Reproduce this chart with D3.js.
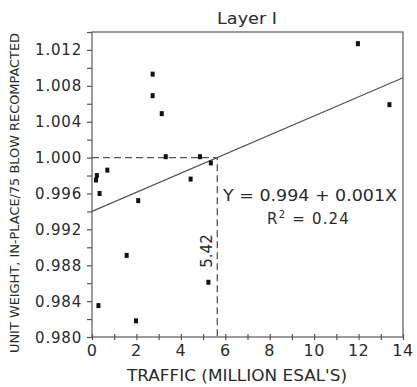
<!DOCTYPE html>
<html><head><meta charset="utf-8">
<script src="https://cdn.jsdelivr.net/npm/d3@7"></script>
<style>body{margin:0;background:#fff}svg text{font-family:"DejaVu Sans",sans-serif;fill:#2a2a2a}</style>
</head><body><svg id="c" width="417" height="387"></svg>
<script>
const traffic = [0.18,0.22,0.69,0.34,2.08,3.32,4.86,5.35,4.44,2.73,2.73,3.14,11.97,13.39,1.56,0.29,1.98,5.24];
const unitWeight = [0.9975,0.9980,0.9986,0.9960,0.9952,1.0001,1.0001,0.9994,0.9976,1.0093,1.0069,1.0049,1.0127,1.0059,0.9891,0.9835,0.9818,0.9861];
const fitX = [0,14];
const fitY = [0.9940,1.0089];
const crossX = 5.64;
const xTicks = [0,2,4,6,8,10,12,14];
const yTicks = [0.980,0.984,0.988,0.992,0.996,1.000,1.004,1.008,1.012];

const svg = d3.select("#c");
const x = d3.scaleLinear().domain([0,14]).range([92,403]);
const y = d3.scaleLinear().domain([0.980,1.014]).range([337,32]);
const col = "#555";

// frame
svg.append("rect").attr("x",92).attr("y",32).attr("width",311).attr("height",305)
  .attr("fill","none").attr("stroke","#666").attr("stroke-width",1.3);

// y axis
const ya = svg.append("g").attr("transform","translate(92,0)")
  .call(d3.axisLeft(y).tickValues(d3.range(0.980,1.0141,0.002)).tickSize(5).tickFormat(""));
ya.select(".domain").remove();
ya.selectAll("line").attr("stroke",col).attr("stroke-width",1.2);
svg.append("g").selectAll("text").data(yTicks).join("text")
  .attr("x",82).attr("y",d=>y(d)+5.5).attr("text-anchor","end")
  .attr("font-size",15).attr("letter-spacing",0.8).text(d=>d3.format(".3f")(d));

// x axis
const xa = svg.append("g").attr("transform","translate(0,337)")
  .call(d3.axisBottom(x).tickValues(d3.range(0,15,1)).tickSize(3).tickFormat(""));
xa.select(".domain").remove();
xa.selectAll("line").attr("stroke",col).attr("stroke-width",1.2).attr("y1",-3);
svg.append("g").selectAll("text").data(xTicks).join("text")
  .attr("x",d=>x(d)).attr("y",356).attr("text-anchor","middle")
  .attr("font-size",16).attr("letter-spacing",0.5).text(d=>d);

// regression line
svg.append("line").attr("x1",x(fitX[0])).attr("y1",y(fitY[0])).attr("x2",x(fitX[1])).attr("y2",y(fitY[1]))
  .attr("stroke","#555").attr("stroke-width",1.3);

// dashed guides
svg.append("path").attr("d",`M${x(0)},${y(1.000)}H${x(crossX)}V${y(0.980)}`)
  .attr("fill","none").attr("stroke","#555").attr("stroke-width",1.3).attr("stroke-dasharray","7,4");

// points
svg.append("g").selectAll("rect").data(traffic.map((t,i)=>[t,unitWeight[i]])).join("rect")
  .attr("x",d=>x(d[0])-2).attr("y",d=>y(d[1])-2.5).attr("width",4).attr("height",5).attr("fill","#111");

// texts
svg.append("text").attr("x",247).attr("y",24).attr("text-anchor","middle").attr("font-size",15)
  .attr("textLength",60).attr("lengthAdjust","spacingAndGlyphs").text("Layer I");
svg.append("text").attr("x",237).attr("y",381).attr("text-anchor","middle").attr("font-size",15)
  .attr("textLength",220).attr("lengthAdjust","spacingAndGlyphs").text("TRAFFIC (MILLION ESAL'S)");
svg.append("text").attr("transform","translate(19,193) rotate(-90)").attr("text-anchor","middle").attr("font-size",13)
  .attr("textLength",320).attr("lengthAdjust","spacingAndGlyphs").text("UNIT WEIGHT, IN-PLACE/75 BLOW RECOMPACTED");
svg.append("text").attr("x",223).attr("y",201).attr("font-size",15)
  .attr("textLength",174).attr("lengthAdjust","spacingAndGlyphs").text("Y = 0.994 + 0.001X");
const r = svg.append("text").attr("x",267).attr("y",224).attr("font-size",15).attr("letter-spacing",1.2);
r.append("tspan").text("R");
r.append("tspan").attr("dy",-6).attr("font-size",10).text("2");
r.append("tspan").attr("dy",6).text(" = 0.24");
svg.append("text").attr("transform","translate(212,251) rotate(-90)").attr("text-anchor","middle").attr("font-size",15).text("5.42");
</script></body></html>
